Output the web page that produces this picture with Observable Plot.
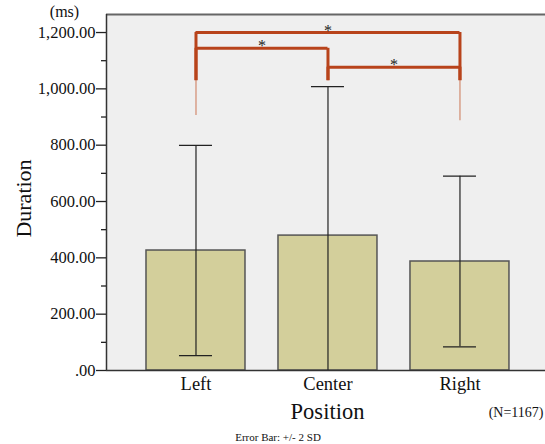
<!DOCTYPE html>
<html>
<head>
<meta charset="utf-8">
<script src="https://cdn.jsdelivr.net/npm/d3@7"></script>
<script src="https://cdn.jsdelivr.net/npm/@observablehq/plot@0.6"></script>
<style>
  html, body { margin: 0; padding: 0; background: #fff; }
  #chart svg { display: block; }
</style>
</head>
<body>
<div id="chart"></div>
<script>
// Data
const categories = ["Left", "Center", "Right"];
const means = [426, 479, 387];          // mean duration (ms)
const twoSD = [373, 529, 303];          // +/- 2 SD half-length (ms)
const majorTicks = [0, 200, 400, 600, 800, 1000, 1200];
const minorTicks = [100, 300, 500, 700, 900, 1100];
// significance brackets: from category index, to category index, level (ms)
const bracketFrom = [0, 0, 1];
const bracketTo = [2, 1, 2];
const bracketLevel = [1200, 1144, 1077];
const bracketLabel = ["*", "*", "*"];
const legBottom = 1029;                 // bottom of thick bracket legs (ms)
const thinLegFrom = [0, 2];
const thinLegBottom = [905, 887];

const bars = categories.map((c, i) => ({i, c, mean: means[i], lo: means[i] - twoSD[i], hi: means[i] + twoSD[i]}));
const brackets = bracketFrom.map((f, k) => ({f, t: bracketTo[k], y: bracketLevel[k], label: bracketLabel[k]}));
const legs = [];
brackets.forEach(b => { legs.push({x: b.f, y1: legBottom, y2: b.y}); legs.push({x: b.t, y1: legBottom, y2: b.y}); });
const thinLegs = thinLegFrom.map((x, k) => ({x, y1: thinLegBottom[k], y2: legBottom}));

const fmt = d => d === 0 ? ".00" : d3.format(",.2f")(d);
const half = 0.375, cap = 0.125;
const bracketColor = "#b8431b";

const chart = Plot.plot({
  width: 545,
  height: 444,
  marginTop: 14,
  marginBottom: 74,
  marginLeft: 106,
  marginRight: 0,
  style: {fontFamily: "'Liberation Serif', 'Times New Roman', serif", background: "#fff", color: "#111"},
  x: {domain: [-0.678, 2.648], axis: null},
  y: {domain: [0, 1264], axis: null},
  marks: [
    Plot.frame({fill: "#efefef", stroke: null}),
    Plot.rectY(bars, {x1: d => d.i - half, x2: d => d.i + half, y1: 0, y2: "mean", fill: "#d3cf9b", stroke: "#555", strokeWidth: 1.5}),
    Plot.ruleX(bars, {x: "i", y1: "lo", y2: "hi", stroke: "#222", strokeWidth: 1.2, clip: true}),
    Plot.ruleY(bars, {y: "hi", x1: d => d.i - cap, x2: d => d.i + cap, stroke: "#222", strokeWidth: 1.2, clip: true}),
    Plot.ruleY(bars.filter(d => d.lo > 0), {y: "lo", x1: d => d.i - cap, x2: d => d.i + cap, stroke: "#222", strokeWidth: 1.2}),
    // significance brackets
    Plot.ruleX(thinLegs, {x: "x", y1: "y1", y2: "y2", stroke: "#d28a6e", strokeWidth: 1.2}),
    Plot.ruleX(legs, {x: "x", y1: "y1", y2: "y2", stroke: bracketColor, strokeWidth: 3}),
    Plot.ruleY(brackets, {y: "y", x1: "f", x2: "t", stroke: bracketColor, strokeWidth: 3}),
    Plot.text(brackets, {x: d => (d.f + d.t) / 2, y: "y", text: "label", dy: 3, fontSize: 16, fill: "#222", lineAnchor: "bottom"}),
    // frame lines
    Plot.ruleY([1264], {stroke: "#666", strokeWidth: 2}),
    Plot.ruleX([-0.678], {stroke: "#333", strokeWidth: 1.5}),
    Plot.ruleY([0], {stroke: "#333", strokeWidth: 1.5}),
    // y axis
    Plot.axisY(majorTicks, {tickSize: 10, tickPadding: 1, tickFormat: fmt, fontSize: 16.5, stroke: "#222", strokeWidth: 1.3, fill: "#111", label: null}),
    Plot.axisY(minorTicks, {tickSize: 5, tickFormat: () => "", stroke: "#222", strokeWidth: 1.3, label: null}),
    // x axis
    Plot.axisX([0, 1, 2], {tickSize: 0, tickPadding: 6, tickFormat: i => categories[i], fontSize: 18.5, fill: "#111", label: null}),
    // titles / notes
    Plot.text(["(ms)"], {frameAnchor: "top-left", dx: -42, dy: -3, fontSize: 16, textAnchor: "middle", lineAnchor: "middle", fill: "#111"}),
    Plot.text(["Duration"], {frameAnchor: "left", dx: -83, dy: 6, rotate: -90, fontSize: 22, textAnchor: "middle", lineAnchor: "middle", fill: "#111"}),
    Plot.text(["Position"], {frameAnchor: "bottom", dx: 1.5, dy: 41, fontSize: 22.5, textAnchor: "middle", lineAnchor: "middle", fill: "#111"}),
    Plot.text(["(N=1167)"], {frameAnchor: "bottom-right", dx: -2, dy: 42, fontSize: 14, textAnchor: "end", lineAnchor: "middle", fill: "#111"}),
    Plot.text(["Error Bar: +/- 2 SD"], {frameAnchor: "bottom", dx: -48, dy: 67, fontSize: 11, textAnchor: "middle", lineAnchor: "middle", fill: "#111"})
  ]
});
document.getElementById("chart").appendChild(chart);
</script>
</body>
</html>
